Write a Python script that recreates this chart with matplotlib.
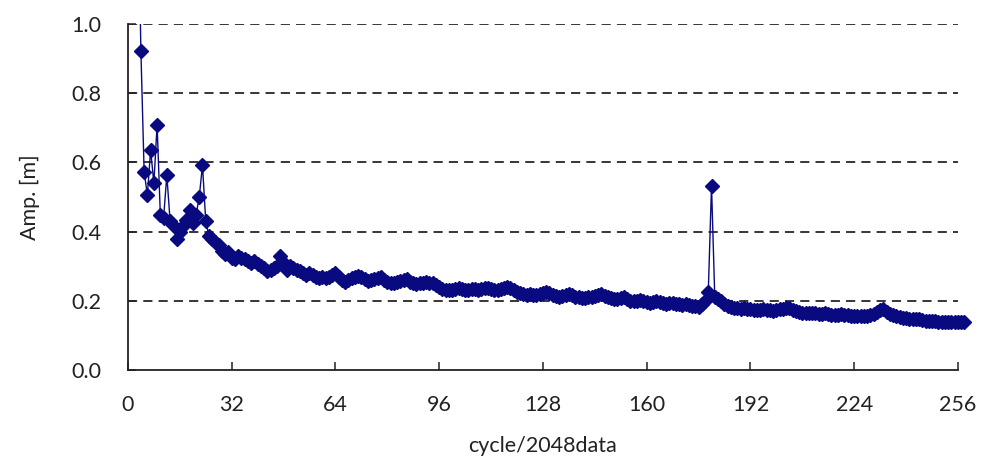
import matplotlib
matplotlib.use("Agg")
import matplotlib.pyplot as plt
from matplotlib.transforms import Bbox, TransformedBbox

# ---- data ----
x_start = 3
amp = [
    1.45, 0.923, 0.573, 0.506, 0.636, 0.540, 0.708, 0.448, 0.440, 0.563,   # 3-12
    0.432, 0.419, 0.380, 0.400, 0.416, 0.434, 0.462, 0.424, 0.448, 0.500,  # 13-22
    0.592, 0.430, 0.386, 0.380, 0.370, 0.360, 0.345, 0.335, 0.340, 0.325,  # 23-32
    0.320, 0.330, 0.325, 0.320, 0.315, 0.310, 0.315, 0.305, 0.300, 0.295,  # 33-42
    0.285, 0.290, 0.295, 0.300, 0.330, 0.310, 0.290, 0.300, 0.295, 0.290,  # 43-52
    0.285, 0.280, 0.275, 0.280, 0.275, 0.270, 0.265, 0.270, 0.265, 0.270,  # 53-62
    0.275, 0.280, 0.270, 0.260, 0.255, 0.260, 0.265, 0.270, 0.272, 0.268,  # 63-72
    0.262, 0.258, 0.260, 0.262, 0.265, 0.268, 0.260, 0.255, 0.250, 0.252,  # 73-82
    0.255, 0.258, 0.260, 0.262, 0.255, 0.250, 0.248, 0.250, 0.252, 0.255,  # 83-92
    0.250, 0.252, 0.245, 0.240, 0.235, 0.232, 0.230, 0.232, 0.235, 0.236,  # 93-102
    0.234, 0.232, 0.230, 0.233, 0.235, 0.232, 0.234, 0.236, 0.238, 0.235,  # 103-112
    0.232, 0.230, 0.233, 0.237, 0.240, 0.238, 0.232, 0.225, 0.222, 0.220,  # 113-122
    0.218, 0.220, 0.218, 0.216, 0.220, 0.223, 0.226, 0.222, 0.218, 0.214,  # 123-132
    0.212, 0.215, 0.218, 0.220, 0.216, 0.212, 0.210, 0.208, 0.207, 0.210,  # 133-142
    0.212, 0.215, 0.218, 0.220, 0.215, 0.210, 0.207, 0.205, 0.205, 0.207,  # 143-152
    0.210, 0.206, 0.200, 0.198, 0.200, 0.202, 0.200, 0.197, 0.195, 0.197,  # 153-162
    0.199, 0.196, 0.193, 0.192, 0.193, 0.195, 0.192, 0.190, 0.188, 0.190,  # 163-172
    0.188, 0.185, 0.184, 0.183, 0.190, 0.200, 0.224, 0.533, 0.212, 0.205,  # 173-182
    0.198, 0.190, 0.186, 0.183, 0.180, 0.178, 0.176, 0.178, 0.176, 0.175,  # 183-192
    0.173, 0.172, 0.174, 0.175, 0.173, 0.172, 0.170, 0.172, 0.175, 0.176,  # 193-202
    0.178, 0.178, 0.174, 0.170, 0.168, 0.166, 0.164, 0.165, 0.166, 0.164,  # 203-212
    0.162, 0.163, 0.165, 0.162, 0.160, 0.159, 0.160, 0.162, 0.160, 0.158,  # 213-222
    0.157, 0.156, 0.155, 0.156, 0.155, 0.156, 0.158, 0.162, 0.168, 0.172,  # 223-232
    0.175, 0.168, 0.162, 0.158, 0.155, 0.152, 0.150, 0.149, 0.148, 0.147,  # 233-242
    0.148, 0.146, 0.144, 0.143, 0.142, 0.142, 0.141, 0.140, 0.140, 0.140,  # 243-252
    0.140, 0.140, 0.140, 0.140, 0.140, 0.140,                              # 253-258
]
cycles = list(range(x_start, x_start + len(amp)))

x_ticks = [0, 32, 64, 96, 128, 160, 192, 224, 256]
y_ticks = [0.0, 0.2, 0.4, 0.6, 0.8, 1.0]
x_label = "cycle/2048data"
y_label = "Amp. [m]"

# ---- figure ----
fig = plt.figure(figsize=(9.84, 4.57), dpi=100)
ax = fig.add_axes([0.130, 0.1904, 0.8435, 0.757])

navy = "#0a0a80"
line, = ax.plot(cycles, amp, color=navy, lw=1.0, marker="D", ms=7,
                markerfacecolor=navy, markeredgecolor=navy, zorder=3)

ax.set_xlim(0, 256)
ax.set_ylim(0, 1.0)
line.set_clip_box(TransformedBbox(Bbox([[0, 0], [1.03, 1]]), ax.transAxes))

ax.set_xticks(x_ticks)
ax.set_yticks(y_ticks)
ax.set_yticklabels([f"{v:.1f}" for v in y_ticks])

for v in y_ticks[1:]:
    ax.axhline(v, color="black", lw=1.1, ls=(0, (6, 4)), zorder=1)

for s in ["top", "right"]:
    ax.spines[s].set_visible(False)
for s in ["left", "bottom"]:
    ax.spines[s].set_linewidth(1.3)
    ax.spines[s].set_color("#222222")

font = ["Lato", "DejaVu Sans"]
ax.tick_params(axis="both", direction="in", length=6, width=1.1, colors="#222222")
ax.tick_params(axis="y", pad=19, labelsize=15.5)
ax.tick_params(axis="x", pad=18, labelsize=15.5)
for lab in ax.get_yticklabels() + ax.get_xticklabels():
    lab.set_family(font)
    lab.set_color("#222222")

ax.set_xlabel(x_label, fontsize=15.5, family=font, color="#222222")
ax.set_ylabel(y_label, fontsize=15.5, family=font, color="#222222")
ax.xaxis.set_label_coords(0.5, -0.19)
ax.yaxis.set_label_coords(-0.106, 0.5)

fig.savefig("out.png", dpi=100)
